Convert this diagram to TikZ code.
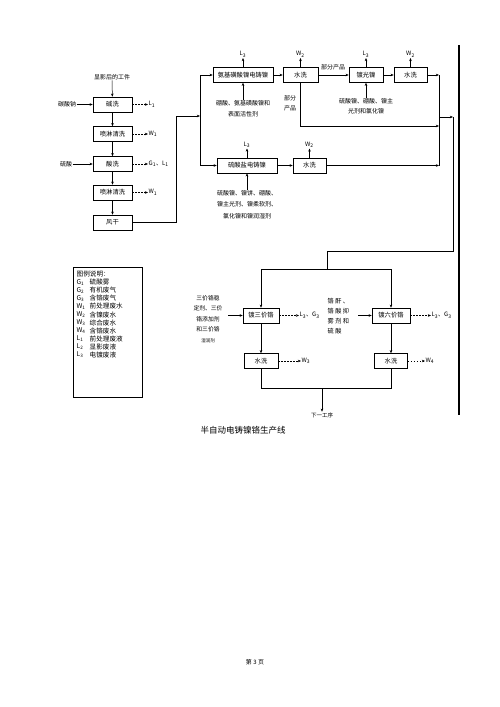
\documentclass[tikz,border=0pt]{standalone}
\usepackage{fontspec}
\setmainfont{Noto Sans CJK SC}
\usetikzlibrary{arrows.meta}
\tikzset{
  proc/.style={draw, line width=0.5pt, minimum height=15pt, inner sep=1pt, font=\fontsize{6.3}{7}\selectfont},
  note/.style={inner sep=0.5pt, align=center, font=\fontsize{6}{11}\selectfont},
  flow/.style={-{Stealth[length=3.2pt,width=2.6pt]}, line width=0.5pt},
  waste/.style={flow, dash pattern=on 1.5pt off 1.5pt},
}
\begin{document}
\begin{tikzpicture}[x=1pt, y=-1pt]
        \useasboundingbox (0,0) rectangle (500,707);

        % pre-treatment
        \node[note] (work) at (112,77) {显影后的工件};
        \node[proc, minimum width=39pt] (alk) at (112.5,104.5) {碱洗};
        \node[proc, minimum width=39pt] (sprayA) at (112.5,134) {喷淋清洗};
        \node[proc, minimum width=39pt] (acid) at (112.5,164) {酸洗};
        \node[proc, minimum width=39pt] (sprayB) at (112.5,192.5) {喷淋清洗};
        \node[proc, minimum width=39pt] (dry) at (112.5,222.5) {风干};

        \node[note] (soda) at (67,104.5) {碳酸钠};
        \node[note] (sulf) at (66,164) {硫酸};

        \node[note, anchor=west] (lAlk) at (148,104.5) {L\textsubscript{1}};
        \node[note, anchor=west] (wSprayA) at (148,134) {W\textsubscript{1}};
        \node[note, anchor=west] (gAcid) at (148,164) {G\textsubscript{1}、L\textsubscript{1}};
        \node[note, anchor=west] (wSprayB) at (148,192.5) {W\textsubscript{1}};

        \draw[flow] (work) -- (alk);
        \draw[flow] (soda) -- (alk);
        \draw[flow] (sulf) -- (acid);
        \draw[flow] (alk) -- (sprayA);
        \draw[flow] (sprayA) -- (acid);
        \draw[flow] (acid) -- (sprayB);
        \draw[flow] (sprayB) -- (dry);
        \draw[waste] (alk) -- (lAlk);
        \draw[waste] (sprayA) -- (wSprayA);
        \draw[waste] (acid) -- (gAcid);
        \draw[waste] (sprayB) -- (wSprayB);

        \coordinate (bendA) at (176,116);
        \coordinate (split) at (200,116);
        \draw[flow] (dry.east) -| (bendA) -- (split);

        % nickel lines
        \node[proc, minimum width=60pt] (nia) at (243,75) {氨基磺酸镍电铸镍};
        \node[proc, minimum width=35pt] (rinseA) at (300.5,75) {水洗};
        \node[proc, minimum width=34pt] (bright) at (366,75) {镀光镍};
        \node[proc, minimum width=33pt] (rinseB) at (410.5,75) {水洗};
        \node[proc, minimum width=60pt] (sul) at (247,165.5) {硫酸盐电铸镍};
        \node[proc, minimum width=33pt] (rinseC) at (309.5,165.5) {水洗};

        \node[note, anchor=south] (lNia) at (243,58) {L\textsubscript{3}};
        \node[note, anchor=south] (wRinseA) at (300.5,58) {W\textsubscript{2}};
        \node[note, anchor=south] (lBright) at (366,58) {L\textsubscript{3}};
        \node[note, anchor=south] (wRinseB) at (410.5,58) {W\textsubscript{2}};
        \node[note, anchor=south] (lSul) at (247,148.5) {L\textsubscript{3}};
        \node[note, anchor=south] (wRinseC) at (309.5,148.5) {W\textsubscript{2}};

        \node[note] (addA) at (243,109) {硼酸、氨基磺酸镍和\\表面活性剂};
        \node[note, font=\fontsize{6}{10}\selectfont] (addB) at (366,106) {硫酸镍、硼酸、镍主\\光剂和氯化镍};
        \node[note, font=\fontsize{6}{11.5}\selectfont] (addC) at (247,204.5) {硫酸镍、镍饼、硼酸、\\镍主光剂、镍柔软剂、\\氯化镍和镍润湿剂};
        \node[note] (partA) at (333,67) {部分产品};
        \node[note, font=\fontsize{6}{10}\selectfont] (partB) at (290,103) {部分\\产品};

        \draw[flow] (split) |- (nia.west);
        \draw[flow] (split) |- (sul.west);
        \draw[flow] (nia) -- (rinseA);
        \draw[flow] (rinseA) -- (bright);
        \draw[flow] (bright) -- (rinseB);
        \draw[flow] (sul) -- (rinseC);
        \draw[flow] (addA) -- (nia);
        \draw[flow] (addB) -- (bright);
        \draw[flow] (addC) -- (sul);
        \foreach \src/\dst in {nia/lNia, rinseA/wRinseA, bright/lBright, rinseB/wRinseB, sul/lSul, rinseC/wRinseC}
          \draw[flow] (\src.north) -- (\dst.south);

        \coordinate (mergeTop) at (439,75);
        \coordinate (mergeMid) at (439,126);
        \coordinate (mergeBot) at (439,165.5);
        \coordinate (mergeOut) at (439,117);
        \coordinate (riser) at (453,117);
        \coordinate (riserBot) at (453,251);
        \coordinate (drop) at (327,251);
        \coordinate (fork) at (327,269);

        \draw[flow] (rinseB) -- (mergeTop);
        \draw[flow] (rinseA.south) |- (mergeMid);
        \draw[flow] (rinseC) -- (mergeBot);
        \draw[line width=0.5pt] (mergeTop) -- (mergeBot);
        \draw[flow] (mergeOut) -- (riser);
        \draw[line width=0.5pt] (riser) -- (riserBot) -- (drop) -- (fork);

        % chromium lines
        \node[proc, minimum width=36pt] (crThree) at (261,315.5) {镀三价铬};
        \node[proc, minimum width=34pt] (rinseD) at (261,361) {水洗};
        \node[proc, minimum width=38pt] (crSix) at (391,315.5) {镀六价铬};
        \node[proc, minimum width=33pt] (rinseE) at (391,361) {水洗};

        \node[note, font=\fontsize{5.8}{10.5}\selectfont] (addD) at (208,319) {三价铬稳\\定剂、三价\\铬添加剂\\和三价铬\\{\fontsize{4.5}{5}\selectfont 湿润剂}};
        \node[note, align=left, anchor=west, font=\fontsize{6.2}{10}\selectfont] (addE) at (327,316.5) {铬 酐 、\\铬 酸 抑\\雾 剂 和\\硫 酸};
        \coordinate (feedD) at (228,315.5);
        \coordinate (feedE) at (358,315.5);

        \node[note, anchor=west] (gCrThree) at (299,315.5) {L\textsubscript{3}、G\textsubscript{3}};
        \node[note, anchor=west] (wRinseD) at (301,361) {W\textsubscript{3}};
        \node[note, anchor=west] (gCrSix) at (431,315.5) {L\textsubscript{3}、G\textsubscript{3}};
        \node[note, anchor=west] (wRinseE) at (425,361) {W\textsubscript{4}};

        \draw[flow] (fork) -| (crThree.north);
        \draw[flow] (fork) -| (crSix.north);
        \draw[flow] (feedD) -- (crThree);
        \draw[flow] (feedE) -- (crSix);
        \draw[flow] (crThree) -- (rinseD);
        \draw[flow] (crSix) -- (rinseE);
        \draw[waste] (crThree) -- (gCrThree);
        \draw[waste] (rinseD) -- (wRinseD);
        \draw[waste] (crSix) -- (gCrSix);
        \draw[waste] (rinseE) -- (wRinseE);

        \node[note, font=\fontsize{5.5}{6}\selectfont] (next) at (322,415) {下一工序};
        \coordinate (joinL) at (261,388);
        \coordinate (joinM) at (322,388);
        \coordinate (joinR) at (391,388);
        \draw[line width=0.5pt] (rinseD.south) -- (joinL) -- (joinR) -- (rinseE.south);
        \draw[flow] (joinM) -- (next);

        % legend
        \node[draw, line width=0.5pt, minimum width=69pt, minimum height=130pt, inner sep=0pt] (legend) at (107.5,332) {};
        \node[note, anchor=west, font=\fontsize{6.6}{8}\selectfont] (legHead) at (76,274) {图例说明：};
        \foreach \sym/\txt [count=\k] in {G\textsubscript{1}/硫酸雾, G\textsubscript{2}/有机废气, G\textsubscript{3}/含铬废气, W\textsubscript{1}/前处理废水, W\textsubscript{2}/含镍废水, W\textsubscript{3}/综合废水, W\textsubscript{4}/含铬废水, L\textsubscript{1}/前处理废液, L\textsubscript{2}/显影废液, L\textsubscript{3}/电镀废液} {
          \node[note, anchor=west, font=\fontsize{6.6}{8}\selectfont] (legSym\k) at (76,274+8.1*\k) {\sym};
          \node[note, anchor=west, font=\fontsize{6.6}{8}\selectfont] (legTxt\k) at (89,274+8.1*\k) {\txt};
        }

        \node[font=\fontsize{8.5}{10}\selectfont] (title) at (243,430) {半自动电铸镍铬生产线};
        \draw[line width=1.6pt] (459,45) -- (459,415);
        \node[font=\fontsize{6}{7}\selectfont] (page) at (255,662) {第 3 页};

\end{tikzpicture}
\end{document}
